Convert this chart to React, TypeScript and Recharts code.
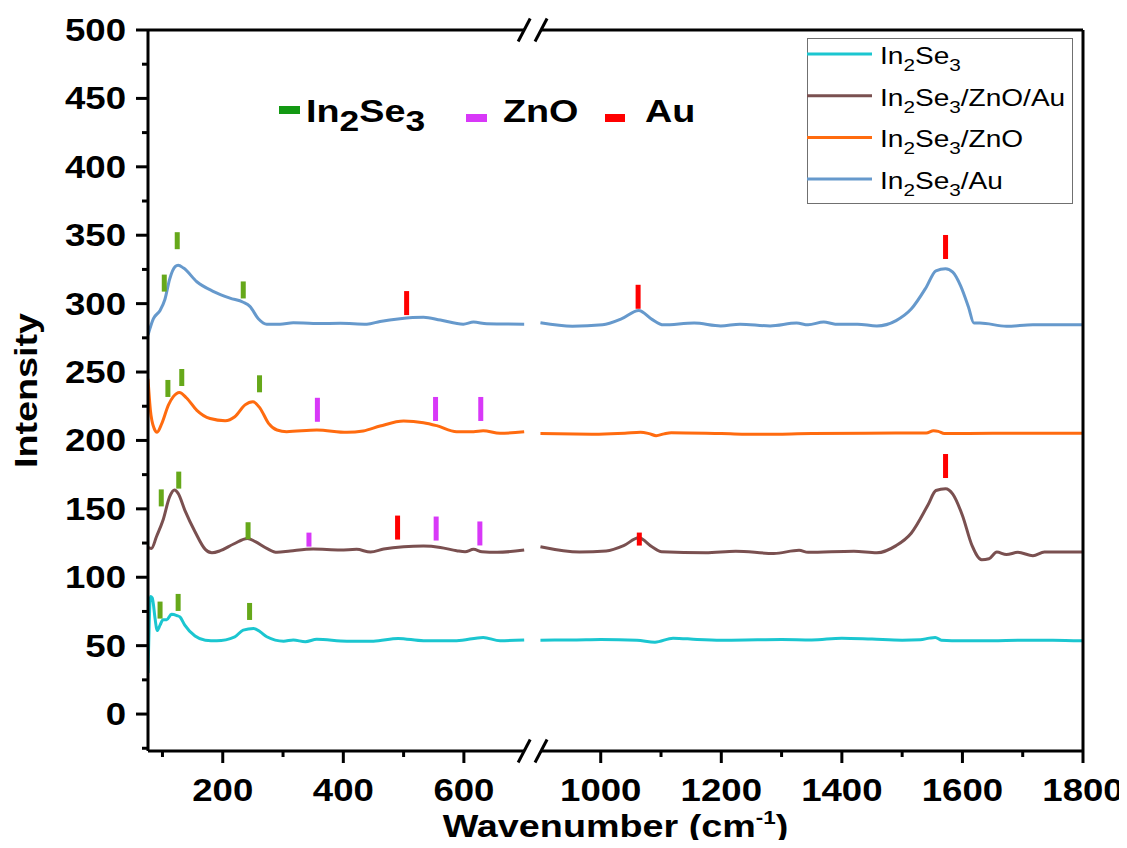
import React from 'react';
import { ComposedChart, Line, Scatter, XAxis, YAxis, ReferenceLine, Legend } from 'recharts';

// In2Se3 (low range 76-700, high range 900-1800)
const in2se3WaveLow = [76, 78, 80, 83, 88, 91, 96, 101, 107, 115, 124, 129, 137, 154, 171, 190, 220, 234, 251, 262, 273, 301, 317, 337, 356, 406, 450, 491, 533, 588, 632, 660, 700];
const in2se3IntLow = [30, 66, 86, 85, 69, 61, 65, 69, 69, 73, 72, 71, 65, 57, 54, 53.6, 56.5, 61.4, 62.6, 60.2, 56.5, 53.3, 54.1, 52.9, 54.6, 53.3, 53.3, 55.3, 53.6, 53.6, 56, 53.6, 54.1];
const in2se3WaveHigh = [900, 960, 1000, 1060, 1090, 1120, 1160, 1200, 1260, 1300, 1350, 1400, 1450, 1500, 1530, 1545, 1555, 1565, 1600, 1650, 1700, 1750, 1800];
const in2se3IntHigh = [54, 54.2, 54.5, 54, 52.5, 55.5, 54.5, 54, 54.3, 54.5, 54.2, 55.5, 54.8, 54, 54.3, 55.5, 56, 54, 53.5, 53.6, 54, 54, 53.5];

// In2Se3/ZnO/Au
const znoAuWaveLow = [76, 82, 90, 101, 112, 120, 126, 137, 154, 171, 182, 196, 218, 241, 254, 273, 290, 312, 350, 395, 422, 445, 467, 500, 533, 561, 588, 602, 616, 630, 655, 700];
const znoAuIntLow = [121.8, 121.1, 129.6, 141.8, 158.9, 163.7, 161.3, 149.1, 133.3, 120.4, 117.9, 119.4, 124.3, 128.4, 126, 121.1, 118.2, 119.2, 120.6, 119.9, 120.4, 118.4, 120.6, 122.3, 122.8, 121.8, 119.4, 118.6, 120.4, 118.6, 118.2, 119.9];
const znoAuWaveHigh = [900, 965, 1009, 1038, 1063, 1085, 1101, 1174, 1224, 1287, 1329, 1344, 1420, 1458, 1490, 1515, 1543, 1556, 1572, 1584, 1600, 1616, 1632, 1644, 1657, 1673, 1692, 1717, 1736, 1800];
const znoAuIntHigh = [122.3, 118.4, 119.2, 123.1, 128.8, 122.3, 118.7, 117.9, 119, 117.4, 119.7, 118.2, 119, 117.9, 123.1, 132.2, 153, 163.4, 164.7, 160.8, 145.2, 123.1, 112.7, 113.5, 118.4, 116.6, 118.2, 115.8, 118.4, 118.4];

// In2Se3/ZnO
const znoWaveLow = [76, 80, 86, 91, 99, 110, 118, 128, 140, 157, 179, 204, 220, 237, 250, 262, 276, 290, 306, 356, 406, 433, 461, 500, 533, 555, 588, 616, 632, 660, 700];
const znoIntLow = [245, 222, 209, 206, 212.5, 226, 232, 235, 231, 222, 216, 214.4, 217.3, 226, 228.3, 223.5, 212.5, 207.6, 206.4, 207.6, 205.9, 206.9, 210.5, 214.2, 213, 210.8, 206.4, 206.4, 207.1, 205.2, 206.4];
const znoWaveHigh = [900, 997, 1040, 1066, 1080, 1092, 1105, 1117, 1200, 1262, 1350, 1439, 1540, 1552, 1560, 1570, 1650, 1800];
const znoIntHigh = [205, 204.6, 205.2, 206, 205, 203.5, 204.8, 205.6, 205, 204.5, 205, 205.3, 205.4, 207, 206.6, 205, 205.2, 205.2];

// In2Se3/Au
const auWaveLow = [76, 85, 96, 104, 112, 121, 126, 135, 157, 184, 212, 234, 245, 259, 273, 295, 317, 350, 395, 439, 461, 494, 533, 561, 599, 616, 638, 700];
const auIntLow = [277, 289, 295, 303, 318, 327, 328, 326, 316, 309, 304, 301, 298, 289, 285, 285, 286, 285.5, 285.6, 285, 287, 289, 290, 288, 285, 286.5, 285.3, 285];
const auWaveHigh = [900, 953, 1003, 1035, 1063, 1085, 1104, 1155, 1199, 1231, 1281, 1325, 1344, 1370, 1389, 1426, 1458, 1490, 1515, 1540, 1556, 1572, 1584, 1597, 1610, 1619, 1629, 1673, 1717, 1800];
const auIntHigh = [286, 283.5, 284.5, 289, 295, 288.5, 284.5, 285.8, 283.7, 285, 283.7, 285.8, 284.5, 286.6, 285, 285, 283.7, 287.6, 296, 312, 324, 325.5, 323, 313, 297.5, 285.8, 285.8, 283.5, 284.5, 284.5];

// peak markers (wavenumber, height on plot)
const in2se3MarkWave = [103, 124.5, 234, 109, 132, 261, 98, 127, 242, 96, 126, 244.5];
const in2se3MarkInt = [315, 346, 310, 238, 246, 241.4, 158, 171, 134, 76, 81.6, 75];
const zincMarkWave = [357, 553, 628, 554, 626.5];
const zincMarkInt = [222.4, 223, 223, 135.6, 132];
const zincShortWave = [343];
const zincShortInt = [127.5];
const goldMarkWave = [505, 1062, 1572, 490, 1572];
const goldMarkInt = [300.4, 305, 341.4, 136.3, 181.3];
const goldShortWave = [1064];
const goldShortInt = [127.9];

const legendOrder = ['In2Se3', 'In2Se3/ZnO/Au', 'In2Se3/ZnO', 'In2Se3/Au'];

const xMajorTicks = [200, 400, 600, 1000, 1200, 1400, 1600, 1800];
const xMinorTicks = [100, 300, 500, 1100, 1300, 1500, 1700];
const yMajorTicks = [0, 50, 100, 150, 200, 250, 300, 350, 400, 450, 500];
const yMinorTicks = [-25, 25, 75, 125, 175, 225, 275, 325, 375, 425, 475];

const C_CYAN = '#1bc6d0';
const C_BROWN = '#7a5050';
const C_ORANGE = '#ff6b0f';
const C_BLUE = '#6699cc';
const C_GREEN = '#66a81a';
const C_MAGENTA = '#d838f8';
const C_RED = '#ff0000';

const W = 1111;
const H = 832;
const SX = 1.18; // the original text is drawn a little wide
const FONT = '"Liberation Sans", Arial, sans-serif';

// broken axis: 700..900 is cut out and replaced by a small gap
const CUT_LO = 700;
const CUT_HI = 900;
const CUT_GAP = 27;
const X_MIN = 76;
const X_MAX = 1800;
const Y_MIN = -27;
const Y_MAX = 500;
const toAxis = (w: number) => (w <= CUT_LO ? w : w - (CUT_HI - CUT_LO) + CUT_GAP);
const fromAxis = (t: number) => (t <= CUT_LO + CUT_GAP / 2 ? t : t + (CUT_HI - CUT_LO) - CUT_GAP);

const series = (wl: number[], il: number[], wh: number[], ih: number[]) => [
  ...wl.map((w, i) => ({ t: toAxis(w), y: il[i] as number | null })),
  { t: CUT_LO + CUT_GAP / 2, y: null },
  ...wh.map((w, i) => ({ t: toAxis(w), y: ih[i] as number | null })),
];
const marks = (ws: number[], is: number[]) => ws.map((w, i) => ({ t: toAxis(w), y: is[i] }));

const xMajorAxis = xMajorTicks.map(toAxis);
const xTicks = [...xMajorTicks, ...xMinorTicks].map(toAxis).sort((a, b) => a - b);
const yTicks = [...yMajorTicks, ...yMinorTicks].sort((a, b) => a - b);

const TICK = 12;
const X_MARGIN = 16;
const Y_MARGIN = 10;

const XTick = (props: any) => {
  const { x, y, payload } = props;
  const major = xMajorAxis.includes(payload.value);
  const axisY = y - TICK - X_MARGIN;
  return (
    <g>
      <line x1={x} x2={x} y1={axisY} y2={axisY + (major ? TICK : 6)} stroke="#000" strokeWidth={3} />
      {major && (
        <text transform={`translate(${x},${y}) scale(${SX},1)`} textAnchor="middle" dy={22}
          fontFamily={FONT} fontWeight="bold" fontSize={31} fill="#000">
          {fromAxis(payload.value)}
        </text>
      )}
    </g>
  );
};

const YTick = (props: any) => {
  const { x, y, payload } = props;
  const major = yMajorTicks.includes(payload.value);
  const axisX = x + TICK + Y_MARGIN;
  return (
    <g>
      <line x1={axisX - (major ? TICK : 6)} x2={axisX} y1={y} y2={y} stroke="#000" strokeWidth={3} />
      {major && (
        <text transform={`translate(${x},${y}) scale(${SX},1)`} textAnchor="end" dy={11}
          fontFamily={FONT} fontWeight="bold" fontSize={31} fill="#000">
          {payload.value}
        </text>
      )}
    </g>
  );
};

const XTitle = (props: any) => {
  const vb = props.viewBox;
  const cx = vb.x + vb.width / 2;
  return (
    <text transform={`translate(${cx},${vb.y + 86}) scale(${SX},1)`} textAnchor="middle"
      fontFamily={FONT} fontWeight="bold" fontSize={32} fill="#000">
      Wavenumber (cm<tspan dy={-13} fontSize={19}>-1</tspan><tspan dy={13}>)</tspan>
    </text>
  );
};

const YTitle = (props: any) => {
  const vb = props.viewBox;
  const cy = vb.y + vb.height / 2;
  return (
    <text transform={`translate(29,${cy}) rotate(-90) scale(${SX},1)`} textAnchor="middle"
      fontFamily={FONT} fontWeight="bold" fontSize={32} fill="#000">
      Intensity
    </text>
  );
};

// digits in a formula become subscripts
const chem = (s: string, sub: number, shift: number) => {
  let low = false;
  return s.split(/(\d+)/).filter((p) => p !== '').map((p, i) => {
    const isSub = /^\d+$/.test(p);
    const dy = isSub === low ? 0 : isSub ? shift : -shift;
    low = isSub;
    return (
      <tspan key={i} dy={dy} fontSize={isSub ? sub : undefined}>{p}</tspan>
    );
  });
};

const LegendBox = (props: any) => {
  const items = (props.payload || [])
    .filter((e: any) => legendOrder.includes(e.value))
    .sort((a: any, b: any) => legendOrder.indexOf(a.value) - legendOrder.indexOf(b.value));
  return (
    <svg width={266} height={166} style={{ display: 'block' }}>
      <rect x={0.5} y={0.5} width={265} height={165} fill="#fff" stroke="#707070" strokeWidth={1} />
      {items.map((e: any, i: number) => {
        const cy = 16 + i * 41.7;
        return (
          <g key={e.value}>
            <line x1={0} x2={65} y1={cy} y2={cy} stroke={e.color} strokeWidth={3} />
            <text transform={`translate(73,${cy + 10}) scale(1.22,1)`} fontFamily={FONT} fontSize={23} fill="#000">
              {chem(e.value, 17, 7)}
            </text>
          </g>
        );
      })}
    </svg>
  );
};

const PhaseKey = () => (
  <svg width={460} height={60} style={{ position: 'absolute', left: 260, top: 80, pointerEvents: 'none' }}>
    <g fontFamily={FONT} fontWeight="bold" fontSize={32} fill="#000">
      <rect x={11} y={18} width={21} height={8} fill="#139913" />
      <text transform={`translate(38,34) scale(${SX},1)`}>{chem('In2Se3', 30, 9)}</text>
      <rect x={198} y={26} width={21} height={8} fill={C_MAGENTA} />
      <text transform={`translate(235,34) scale(${SX},1)`}>ZnO</text>
      <rect x={337} y={26} width={20} height={8} fill={C_RED} />
      <text transform={`translate(377,34) scale(${SX},1)`}>Au</text>
    </g>
  </svg>
);

const bar = (color: string, h: number) => (props: any) => (
  <rect x={props.cx - 2.5} y={props.cy - h / 2} width={5} height={h} fill={color} />
);

const frame = (a: [number, number], b: [number, number]) => (
  <ReferenceLine
    key={`${a.join()}-${b.join()}`}
    segment={[{ x: a[0], y: a[1] }, { x: b[0], y: b[1] }]}
    stroke="#000"
    strokeWidth={3}
    ifOverflow="visible"
  />
);

const breakL = CUT_LO;
const breakR = CUT_LO + 28;
const slash = (cx: number, cy: number) => frame([cx - 10, cy - 8.4], [cx + 10, cy + 8.4]);

export default function App() {
  return (
    <div style={{ position: 'relative', width: W, height: H }}>
      <style>{'.recharts-surface { overflow: visible; }'}</style>
      <ComposedChart width={W} height={H} margin={{ top: 22, right: 36, bottom: 29, left: 0 }}>
        <XAxis
          type="number"
          dataKey="t"
          domain={[X_MIN, toAxis(X_MAX)]}
          ticks={xTicks}
          interval={0}
          allowDataOverflow
          axisLine={false}
          tickLine={false}
          tickSize={TICK}
          tickMargin={X_MARGIN}
          tick={<XTick />}
          height={60}
          label={<XTitle />}
        />
        <YAxis
          type="number"
          domain={[Y_MIN, Y_MAX]}
          ticks={yTicks}
          interval={0}
          allowDataOverflow
          axisLine={{ stroke: '#000', strokeWidth: 3 }}
          tickLine={false}
          tickSize={TICK}
          tickMargin={Y_MARGIN}
          tick={<YTick />}
          width={140}
          label={<YTitle />}
        />
        <Legend
          layout="horizontal"
          align="center"
          verticalAlign="middle"
          content={<LegendBox />}
          wrapperStyle={{ top: 30, left: 799, width: 266, height: 166 }}
        />
        <Line name="In2Se3" data={series(in2se3WaveLow, in2se3IntLow, in2se3WaveHigh, in2se3IntHigh)} dataKey="y"
          type="monotone" stroke={C_CYAN} strokeWidth={3} dot={false} activeDot={false} isAnimationActive={false} />
        <Line name="In2Se3/ZnO/Au" data={series(znoAuWaveLow, znoAuIntLow, znoAuWaveHigh, znoAuIntHigh)} dataKey="y"
          type="monotone" stroke={C_BROWN} strokeWidth={3} dot={false} activeDot={false} isAnimationActive={false} />
        <Line name="In2Se3/ZnO" data={series(znoWaveLow, znoIntLow, znoWaveHigh, znoIntHigh)} dataKey="y"
          type="monotone" stroke={C_ORANGE} strokeWidth={3} dot={false} activeDot={false} isAnimationActive={false} />
        <Line name="In2Se3/Au" data={series(auWaveLow, auIntLow, auWaveHigh, auIntHigh)} dataKey="y"
          type="monotone" stroke={C_BLUE} strokeWidth={3} dot={false} activeDot={false} isAnimationActive={false} />
        <Scatter data={marks(in2se3MarkWave, in2se3MarkInt)} dataKey="y" legendType="none"
          shape={bar(C_GREEN, 17)} isAnimationActive={false} />
        <Scatter data={marks(zincMarkWave, zincMarkInt)} dataKey="y" legendType="none"
          shape={bar(C_MAGENTA, 24)} isAnimationActive={false} />
        <Scatter data={marks(zincShortWave, zincShortInt)} dataKey="y" legendType="none"
          shape={bar(C_MAGENTA, 14)} isAnimationActive={false} />
        <Scatter data={marks(goldMarkWave, goldMarkInt)} dataKey="y" legendType="none"
          shape={bar(C_RED, 24)} isAnimationActive={false} />
        <Scatter data={marks(goldShortWave, goldShortInt)} dataKey="y" legendType="none"
          shape={bar(C_RED, 13)} isAnimationActive={false} />
        {frame([X_MIN, Y_MIN], [breakL, Y_MIN])}
        {frame([breakR, Y_MIN], [toAxis(X_MAX), Y_MIN])}
        {frame([X_MIN, Y_MAX], [breakL, Y_MAX])}
        {frame([breakR, Y_MAX], [toAxis(X_MAX), Y_MAX])}
        {frame([toAxis(X_MAX), Y_MIN], [toAxis(X_MAX), Y_MAX])}
        {slash(breakL, Y_MIN)}
        {slash(breakR, Y_MIN)}
        {slash(breakL, Y_MAX)}
        {slash(breakR, Y_MAX)}
      </ComposedChart>
      <PhaseKey />
    </div>
  );
}
